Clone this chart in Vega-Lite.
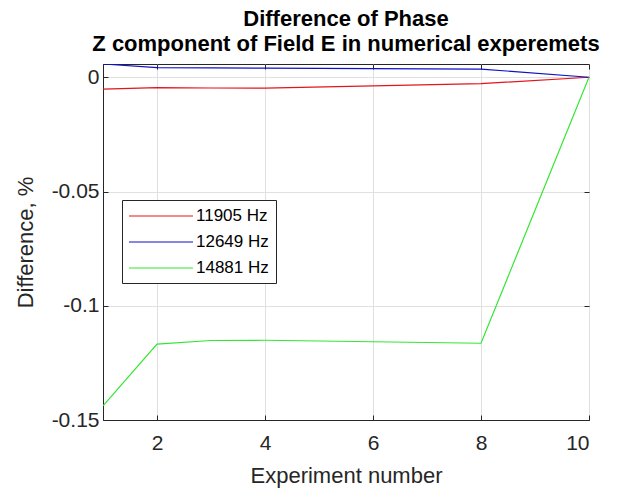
{
  "$schema": "https://vega.github.io/schema/vega-lite/v6.json",
  "width": 486,
  "height": 356,
  "autosize": "none",
  "padding": {"left": 103, "top": 64, "right": 44, "bottom": 71},
  "background": "white",
  "config": {
    "font": "Liberation Sans",
    "view": {"stroke": "#262626", "strokeWidth": 1},
    "axis": {
      "labelFont": "Liberation Sans",
      "titleFont": "Liberation Sans",
      "labelColor": "#262626",
      "titleColor": "#262626",
      "domainColor": "#262626",
      "tickColor": "#262626",
      "gridColor": "#e0e0e0",
      "labelFontSize": 21,
      "titleFontSize": 22,
      "titleFontWeight": "normal"
    }
  },
  "title": {
    "text": ["Difference of Phase", "Z component of Field E in numerical experemets"],
    "font": "Liberation Sans",
    "fontSize": 22,
    "fontWeight": "bold",
    "color": "#000000",
    "anchor": "middle",
    "offset": 8,
    "lineHeight": 25
  },
  "data": {
    "values": [
      {"exp": 1, "freq": "11905 Hz", "diff": -0.0052},
      {"exp": 2, "freq": "11905 Hz", "diff": -0.0045},
      {"exp": 3, "freq": "11905 Hz", "diff": -0.0047},
      {"exp": 4, "freq": "11905 Hz", "diff": -0.0048},
      {"exp": 8, "freq": "11905 Hz", "diff": -0.0028},
      {"exp": 10, "freq": "11905 Hz", "diff": 0},
      {"exp": 1, "freq": "12649 Hz", "diff": 0.0058},
      {"exp": 2, "freq": "12649 Hz", "diff": 0.0042},
      {"exp": 3, "freq": "12649 Hz", "diff": 0.0041},
      {"exp": 4, "freq": "12649 Hz", "diff": 0.0040},
      {"exp": 8, "freq": "12649 Hz", "diff": 0.0036},
      {"exp": 10, "freq": "12649 Hz", "diff": 0},
      {"exp": 1, "freq": "14881 Hz", "diff": -0.1438},
      {"exp": 2, "freq": "14881 Hz", "diff": -0.1168},
      {"exp": 3, "freq": "14881 Hz", "diff": -0.1152},
      {"exp": 4, "freq": "14881 Hz", "diff": -0.1151},
      {"exp": 8, "freq": "14881 Hz", "diff": -0.1164},
      {"exp": 10, "freq": "14881 Hz", "diff": 0}
    ]
  },
  "resolve": {"axis": {"x": "independent", "y": "independent"}},
  "layer": [
    {
      "mark": {"type": "line", "strokeWidth": 1.2, "clip": true},
      "encoding": {
        "x": {
          "field": "exp",
          "type": "quantitative",
          "scale": {"domain": [1, 10], "nice": false, "zero": false},
          "axis": {
            "title": "Experiment number",
            "values": [2, 4, 6, 8, 10],
            "tickSize": -5,
            "labelPadding": 17,
            "titlePadding": 12
          }
        },
        "y": {
          "field": "diff",
          "type": "quantitative",
          "scale": {"domain": [-0.15, 0.0058], "nice": false, "zero": false},
          "axis": {
            "title": "Difference, %",
            "values": [0, -0.05, -0.1, -0.15],
            "labelExpr": "datum.value == 0 ? '0' : '-' + format(abs(datum.value), '~g')",
            "tickSize": -5,
            "labelPadding": 9,
            "titlePadding": 14
          }
        },
        "color": {
          "field": "freq",
          "type": "nominal",
          "scale": {"domain": ["11905 Hz", "12649 Hz", "14881 Hz"], "range": ["#e3141c", "#1010c8", "#33e633"]},
          "legend": {
            "title": null,
            "orient": "none",
            "legendX": 19,
            "legendY": 136,
            "symbolType": "M-4,0H4",
            "symbolSize": 256,
            "symbolStrokeWidth": 1.2,
            "symbolOffset": 23,
            "labelFontSize": 17,
            "labelFont": "Liberation Sans",
            "labelColor": "#000000",
            "labelOffset": 26,
            "labelExpr": "datum.label + '\u00a0\u00a0'",
            "rowPadding": 9,
            "padding": 7,
            "strokeColor": "#262626",
            "fillColor": "white"
          }
        }
      }
    },
    {
      "mark": {"type": "line", "strokeOpacity": 0},
      "encoding": {
        "x": {
          "field": "exp",
          "type": "quantitative",
          "scale": {"domain": [1, 10], "nice": false, "zero": false},
          "axis": {"orient": "top", "title": null, "labels": false, "grid": false, "domain": false, "values": [2, 4, 6, 8, 10], "tickSize": -5}
        },
        "y": {
          "field": "diff",
          "type": "quantitative",
          "scale": {"domain": [-0.15, 0.0058], "nice": false, "zero": false},
          "axis": {"orient": "right", "title": null, "labels": false, "grid": false, "domain": false, "values": [0, -0.05, -0.1, -0.15], "tickSize": -5}
        }
      }
    }
  ]
}
